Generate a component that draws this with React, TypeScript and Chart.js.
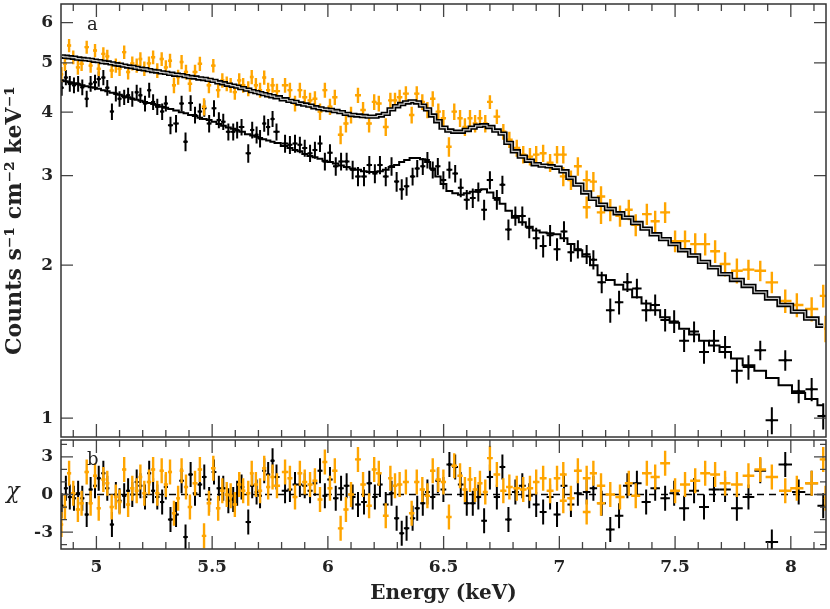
import React, { useEffect, useRef } from "react";
import { Chart, registerables } from "chart.js";

Chart.register(...registerables);

// ---------- axis ranges & tick labels ----------
const X_MIN = 4.847;
const X_MAX = 8.152;
const Y_TOP_MIN = 0.918;
const Y_TOP_MAX = 6.53;
const CHI_MIN = -4.35;
const CHI_MAX = 4.35;

const xTickValues = [5, 5.5, 6, 6.5, 7, 7.5, 8];
const xTickLabels = ["5", "5.5", "6", "6.5", "7", "7.5", "8"];
const yTopTickValues = [1, 2, 3, 4, 5, 6];
const yTopTickLabels = ["1", "2", "3", "4", "5", "6"];
const chiTickValues = [-3, 0, 3];
const chiTickLabels = ["-3", "0", "3"];

const yTitle = "Counts s\u207B\u00B9 cm\u207B\u00B2 keV\u207B\u00B9";
const xTitle = "Energy (keV)";

// ---------- black spectrum (bin centres, keV) ----------
const blackE = [
  4.850, 4.868, 4.885, 4.903, 4.921, 4.939, 4.958, 4.975, 4.994, 5.010,
  5.030, 5.047, 5.067, 5.084, 5.100, 5.120, 5.137, 5.155, 5.174, 5.190,
  5.210, 5.228, 5.245, 5.263, 5.284, 5.300, 5.320, 5.344, 5.368, 5.385,
  5.407, 5.426, 5.447, 5.466, 5.487, 5.508, 5.529, 5.548, 5.570, 5.591,
  5.608, 5.627, 5.656, 5.673, 5.692, 5.707, 5.725, 5.742, 5.761, 5.778,
  5.815, 5.836, 5.858, 5.879, 5.900, 5.923, 5.944, 5.966, 5.987, 6.009,
  6.034, 6.057, 6.081, 6.107, 6.130, 6.156, 6.179, 6.203, 6.225, 6.250,
  6.275, 6.297, 6.319, 6.340, 6.366, 6.386, 6.410, 6.430, 6.453, 6.475,
  6.499, 6.525, 6.550, 6.574, 6.600, 6.626, 6.650, 6.675, 6.700, 6.730,
  6.754, 6.780, 6.810, 6.840, 6.870, 6.900, 6.930, 6.960, 6.990, 7.020,
  7.050, 7.080, 7.118, 7.147, 7.183, 7.220, 7.258, 7.294, 7.335, 7.375,
  7.414, 7.457, 7.496, 7.539, 7.582, 7.625, 7.668, 7.716, 7.767, 7.817,
  7.868, 7.918, 7.976, 8.034, 8.090, 8.140,
];
const blackRate = [
  4.47, 4.68, 4.55, 4.52, 4.55, 4.48, 4.25, 4.55, 4.58, 4.65,
  4.68, 4.47, 4.01, 4.35, 4.25, 4.28, 4.32, 4.25, 4.38, 4.32,
  4.16, 4.42, 4.19, 4.10, 4.01, 4.16, 3.77, 3.80, 4.16, 3.50,
  4.17, 3.95, 4.01, 4.07, 3.80, 4.07, 3.86, 3.83, 3.66, 3.66,
  3.69, 3.74, 3.32, 3.69, 3.61, 3.55, 3.80, 3.74, 3.88, 3.66,
  3.47, 3.45, 3.47, 3.45, 3.40, 3.32, 3.37, 3.47, 3.20, 3.33,
  3.13, 3.20, 3.20, 3.08, 2.99, 2.99, 3.15, 3.03, 3.15, 2.99,
  3.13, 2.92, 2.82, 2.86, 2.99, 3.10, 3.13, 3.22, 3.08, 3.13,
  2.94, 3.08, 3.03, 2.84, 2.69, 2.71, 2.79, 2.57, 2.94, 2.69,
  2.88, 2.35, 2.50, 2.50, 2.37, 2.26, 2.18, 2.29, 2.15, 2.33,
  2.12, 2.15, 2.10, 2.05, 1.85, 1.63, 1.69, 1.85, 1.80, 1.63,
  1.67, 1.56, 1.55, 1.42, 1.48, 1.35, 1.42, 1.38, 1.24, 1.26,
  1.36, 0.99, 1.30, 1.13, 1.14, 1.01,
];
const blackErr = [
  0.16, 0.16, 0.16, 0.16, 0.16, 0.16, 0.16, 0.16, 0.16, 0.16,
  0.16, 0.16, 0.15, 0.15, 0.15, 0.15, 0.15, 0.15, 0.15, 0.15,
  0.15, 0.15, 0.15, 0.15, 0.15, 0.15, 0.15, 0.15, 0.15, 0.15,
  0.15, 0.15, 0.15, 0.15, 0.15, 0.15, 0.14, 0.14, 0.14, 0.14,
  0.14, 0.14, 0.14, 0.14, 0.14, 0.14, 0.14, 0.14, 0.14, 0.14,
  0.14, 0.14, 0.14, 0.13, 0.13, 0.13, 0.13, 0.13, 0.13, 0.13,
  0.13, 0.13, 0.13, 0.13, 0.13, 0.13, 0.13, 0.13, 0.13, 0.13,
  0.13, 0.13, 0.13, 0.12, 0.12, 0.12, 0.12, 0.12, 0.12, 0.12,
  0.12, 0.12, 0.12, 0.12, 0.12, 0.12, 0.12, 0.12, 0.12, 0.12,
  0.12, 0.11, 0.11, 0.11, 0.11, 0.11, 0.11, 0.11, 0.11, 0.11,
  0.09, 0.09, 0.09, 0.09, 0.09, 0.09, 0.09, 0.08, 0.08, 0.08,
  0.08, 0.08, 0.08, 0.07, 0.07, 0.07, 0.07, 0.07, 0.07, 0.07,
  0.06, 0.06, 0.06, 0.06, 0.06, 0.06,
];
const blackChi = [
  -0.9, 0.5, -0.2, -0.3, 0.1, -0.3, -1.6, 0.4, 0.7, 1.3,
  1.7, 0.5, -2.4, 0.0, -0.5, -0.1, 0.3, 0.0, 1.0, 0.7,
  -0.2, 1.7, 0.3, -0.2, -0.6, 0.6, -2.0, -1.6, 1.1, -3.4,
  1.6, 0.1, 0.8, 1.4, -0.4, 1.8, 0.5, 0.5, -0.5, -0.4,
  0.1, 0.6, -2.2, 0.7, 0.2, -0.1, 1.9, 1.6, 2.7, 1.4,
  0.3, 0.4, 0.8, 0.8, 0.7, 0.3, 0.9, 1.9, -0.1, 1.2,
  -0.3, 0.5, 0.7, -0.2, -0.8, -0.6, 0.9, -0.2, 0.8, -0.8,
  0.1, -1.9, -3.1, -2.7, -1.9, -1.1, -0.7, 0.2, -0.2, 1.1,
  0.4, 2.4, 2.2, 0.8, -0.7, -0.7, -0.2, -2.1, 1.4, -0.2,
  2.2, -2.0, 0.2, 0.7, -0.1, -0.8, -1.4, -0.2, -1.6, 0.7,
  -0.8, 0.1, 0.2, 0.5, -0.7, -2.8, -1.7, 0.7, 0.9, -0.6,
  0.5, -0.3, 0.1, -1.1, 0.3, -1.0, 0.4, 0.4, -1.1, -0.2,
  1.9, -3.8, 2.4, 0.2, 0.9, -0.9,
];

// ---------- orange spectrum ----------
const orangeE = [
  4.849, 4.864, 4.882, 4.900, 4.920, 4.936, 4.958, 4.975, 4.994, 5.010,
  5.030, 5.047, 5.066, 5.084, 5.100, 5.120, 5.137, 5.155, 5.174, 5.190,
  5.207, 5.227, 5.245, 5.263, 5.282, 5.300, 5.318, 5.335, 5.353, 5.368,
  5.387, 5.404, 5.426, 5.447, 5.465, 5.486, 5.505, 5.526, 5.544, 5.563,
  5.580, 5.598, 5.617, 5.634, 5.656, 5.671, 5.689, 5.707, 5.725, 5.742,
  5.761, 5.780, 5.815, 5.836, 5.858, 5.879, 5.900, 5.923, 5.944, 5.966,
  5.987, 6.009, 6.030, 6.055, 6.078, 6.100, 6.130, 6.152, 6.178, 6.200,
  6.220, 6.250, 6.270, 6.290, 6.310, 6.337, 6.362, 6.384, 6.408, 6.430,
  6.453, 6.477, 6.499, 6.523, 6.546, 6.571, 6.592, 6.614, 6.636, 6.657,
  6.680, 6.700, 6.730, 6.758, 6.784, 6.816, 6.844, 6.873, 6.900, 6.930,
  6.960, 6.990, 7.017, 7.017, 7.050, 7.080, 7.118, 7.118, 7.147, 7.180,
  7.180, 7.220, 7.262, 7.300, 7.330, 7.378, 7.414, 7.457, 7.500, 7.543,
  7.587, 7.630, 7.673, 7.716, 7.767, 7.817, 7.868, 7.918, 7.976, 8.026,
  8.090, 8.140, 8.150,
];
const orangeRate = [
  4.75, 4.98, 5.41, 5.13, 4.90, 4.98, 5.37, 4.94, 5.29, 4.87,
  5.21, 5.15, 4.83, 4.94, 4.87, 5.25, 4.80, 4.99, 4.94, 5.09,
  4.87, 4.99, 5.13, 4.83, 5.09, 4.90, 5.05, 4.52, 4.69, 5.02,
  4.80, 4.55, 4.80, 4.98, 4.10, 4.52, 4.94, 4.42, 4.62, 4.55,
  4.52, 4.38, 4.62, 4.52, 4.45, 4.69, 4.52, 4.42, 4.68, 4.42,
  4.52, 4.40, 4.52, 4.42, 4.16, 4.42, 4.28, 4.22, 4.25, 4.01,
  4.42, 4.10, 4.28, 3.61, 3.80, 3.95, 4.32, 4.04, 3.80, 4.19,
  4.16, 3.74, 4.22, 4.22, 4.28, 4.35, 3.95, 4.35, 4.19, 4.04,
  4.25, 4.01, 3.89, 3.42, 4.01, 3.89, 3.74, 3.89, 3.80, 3.89,
  3.80, 4.19, 3.92, 3.66, 3.53, 3.40, 3.30, 3.27, 3.30, 3.32,
  3.18, 3.30, 3.30, 2.99, 2.94, 3.13, 2.94, 2.60, 2.92, 2.73,
  2.54, 2.57, 2.50, 2.57, 2.40, 2.52, 2.44, 2.54, 2.23, 2.23,
  2.20, 2.20, 2.13, 2.01, 1.95, 1.96, 1.95, 1.85, 1.70, 1.67,
  1.64, 1.74, 1.50,
];
const orangeErr = [
  0.16, 0.16, 0.16, 0.16, 0.16, 0.16, 0.16, 0.16, 0.16, 0.16,
  0.16, 0.16, 0.16, 0.16, 0.16, 0.16, 0.16, 0.16, 0.16, 0.16,
  0.16, 0.16, 0.16, 0.16, 0.16, 0.16, 0.16, 0.16, 0.16, 0.16,
  0.16, 0.16, 0.16, 0.16, 0.16, 0.16, 0.15, 0.15, 0.15, 0.15,
  0.15, 0.15, 0.15, 0.15, 0.15, 0.15, 0.15, 0.15, 0.15, 0.15,
  0.15, 0.15, 0.15, 0.15, 0.15, 0.15, 0.15, 0.15, 0.15, 0.15,
  0.15, 0.15, 0.15, 0.15, 0.15, 0.15, 0.15, 0.15, 0.15, 0.15,
  0.15, 0.15, 0.15, 0.15, 0.15, 0.15, 0.15, 0.15, 0.15, 0.15,
  0.15, 0.15, 0.15, 0.15, 0.15, 0.15, 0.15, 0.15, 0.15, 0.15,
  0.15, 0.13, 0.13, 0.13, 0.13, 0.13, 0.13, 0.13, 0.13, 0.13,
  0.13, 0.13, 0.13, 0.13, 0.13, 0.13, 0.13, 0.13, 0.13, 0.13,
  0.13, 0.13, 0.12, 0.12, 0.12, 0.12, 0.12, 0.12, 0.11, 0.11,
  0.11, 0.11, 0.11, 0.11, 0.11, 0.09, 0.09, 0.09, 0.09, 0.09,
  0.09, 0.09, 0.09,
];
const orangeChi = [
  -2.4, -1.0, 1.7, 0.1, -1.2, -0.7, 1.8, -0.7, 1.5, -1.1,
  1.2, 0.9, -1.0, -0.2, -0.6, 2.0, -0.8, 0.5, 0.3, 1.4,
  0.1, 1.0, 2.0, 0.1, 1.9, 0.8, 1.8, -1.5, -0.3, 1.9,
  0.6, -1.0, 0.9, 2.0, -3.3, -0.7, 2.1, -1.1, 0.3, 0.0,
  -0.1, -0.8, 0.8, 0.3, 0.1, 1.7, 0.8, 0.3, 2.1, 0.6,
  1.4, 0.7, 1.8, 1.3, -0.2, 1.7, 1.0, 0.8, 1.1, -0.4,
  2.6, 0.5, 1.9, -2.7, -1.2, 0.0, 2.8, 0.8, -0.9, 2.0,
  1.7, -1.7, 1.3, 0.7, 0.8, 1.0, -1.5, 1.0, 0.4, -0.1,
  1.9, 1.2, 1.0, -1.8, 2.3, 1.5, 0.4, 1.2, 0.4, 0.9,
  0.2, 2.9, 1.6, 0.3, 0.6, 0.5, 0.4, 0.5, 1.0, 1.3,
  0.3, 1.3, 1.6, -0.5, -0.3, 1.9, 1.3, -1.4, 1.7, 0.7,
  -0.7, 0.0, -0.2, 0.9, -0.1, 1.7, 1.4, 2.5, 0.3, 0.8,
  1.1, 1.7, 1.6, 0.9, 0.8, 1.5, 2.0, 1.4, 0.3, 0.5,
  0.9, 2.8, -0.3,
];

// ---------- folded models (on the black binning grid) ----------
const modelE = blackE;
const orangeModel = [
  5.15, 5.14, 5.13, 5.12, 5.10, 5.09, 5.08, 5.07, 5.05, 5.04,
  5.02, 5.01, 4.99, 4.97, 4.96, 4.94, 4.92, 4.91, 4.89, 4.87,
  4.86, 4.84, 4.82, 4.81, 4.79, 4.78, 4.76, 4.74, 4.73, 4.71,
  4.69, 4.68, 4.66, 4.65, 4.63, 4.61, 4.58, 4.56, 4.53, 4.51,
  4.49, 4.46, 4.43, 4.40, 4.38, 4.36, 4.34, 4.32, 4.30, 4.28,
  4.24, 4.21, 4.19, 4.16, 4.14, 4.12, 4.09, 4.07, 4.05, 4.04,
  4.02, 4.00, 3.97, 3.95, 3.94, 3.93, 3.92, 3.92, 3.94, 3.97,
  4.05, 4.11, 4.15, 4.18, 4.20, 4.18, 4.12, 4.05, 3.94, 3.84,
  3.73, 3.68, 3.66, 3.66, 3.69, 3.73, 3.76, 3.77, 3.74, 3.68,
  3.63, 3.48, 3.35, 3.27, 3.21, 3.16, 3.14, 3.13, 3.11, 3.06,
  2.97, 2.88, 2.78, 2.70, 2.63, 2.58, 2.53, 2.48, 2.42, 2.36,
  2.30, 2.25, 2.20, 2.14, 2.09, 2.03, 1.98, 1.92, 1.87, 1.82,
  1.77, 1.72, 1.67, 1.62, 1.57, 1.52,
];
const blackModel = [
  4.62, 4.60, 4.58, 4.56, 4.54, 4.52, 4.50, 4.48, 4.47, 4.45,
  4.42, 4.40, 4.37, 4.35, 4.33, 4.30, 4.28, 4.25, 4.23, 4.21,
  4.19, 4.17, 4.15, 4.13, 4.10, 4.08, 4.06, 4.03, 4.00, 3.98,
  3.95, 3.93, 3.90, 3.88, 3.86, 3.83, 3.79, 3.76, 3.73, 3.71,
  3.68, 3.66, 3.62, 3.60, 3.58, 3.56, 3.54, 3.52, 3.50, 3.48,
  3.43, 3.40, 3.37, 3.35, 3.31, 3.28, 3.26, 3.24, 3.21, 3.19,
  3.17, 3.14, 3.12, 3.10, 3.08, 3.06, 3.05, 3.05, 3.06, 3.08,
  3.12, 3.15, 3.19, 3.22, 3.25, 3.25, 3.23, 3.19, 3.10, 2.99,
  2.89, 2.80, 2.77, 2.75, 2.77, 2.79, 2.81, 2.82, 2.78, 2.71,
  2.64, 2.56, 2.48, 2.43, 2.38, 2.34, 2.32, 2.31, 2.30, 2.26,
  2.20, 2.14, 2.08, 2.00, 1.91, 1.87, 1.83, 1.79, 1.73, 1.68,
  1.63, 1.58, 1.54, 1.50, 1.46, 1.42, 1.39, 1.35, 1.31, 1.27,
  1.24, 1.20, 1.16, 1.12, 1.09, 1.06,
];

// ---------- styling ----------
const FONT = '"DejaVu Serif", "Liberation Serif", serif';
const ORANGE = "#FFA500";
const TEXT = "#222";
const FRAME = "#333";
const TICK = "#444";

// half bin widths from the distances to neighbouring bin centres
function halfWidths(e: number[]): number[] {
  return e.map((v, i) => {
    let l = i - 1;
    while (l >= 0 && e[l] === v) l--;
    let r = i + 1;
    while (r < e.length && e[r] === v) r++;
    const dl = l >= 0 ? v - e[l] : null;
    const dr = r < e.length ? e[r] - v : null;
    let d: number;
    if (dl !== null && dr !== null) d = (dl + dr) / 2;
    else d = (dl ?? dr ?? 0.02) as number;
    return d / 2;
  });
}

const errorBarPlugin = {
  id: "errorBars",
  beforeDatasetDraw(chart: any, args: any) {
    const ds = chart.data.datasets[args.index];
    if (!ds.errorBars) return;
    const { ctx, chartArea: a, scales } = chart;
    const xs = scales.x;
    const ys = scales.y;
    ctx.save();
    ctx.beginPath();
    ctx.rect(a.left, a.top, a.right - a.left, a.bottom - a.top);
    ctx.clip();
    ctx.strokeStyle = ds.errColor;
    ctx.lineWidth = ds.errWidth;
    ctx.lineCap = "butt";
    ctx.beginPath();
    for (const p of ds.data) {
      const px = xs.getPixelForValue(p.x);
      const py = ys.getPixelForValue(p.y);
      ctx.moveTo(xs.getPixelForValue(p.x - p.xErr), py);
      ctx.lineTo(xs.getPixelForValue(p.x + p.xErr), py);
      ctx.moveTo(px, ys.getPixelForValue(p.y - p.yErr));
      ctx.lineTo(px, ys.getPixelForValue(p.y + p.yErr));
    }
    ctx.stroke();
    ctx.restore();
  },
};

function drawXTicks(ctx: any, x: any, a: any) {
  ctx.strokeStyle = TICK;
  ctx.lineWidth = 1.3;
  ctx.beginPath();
  for (let k = Math.ceil(X_MIN * 10); k <= Math.floor(X_MAX * 10); k++) {
    const px = x.getPixelForValue(k / 10);
    const len = k % 5 === 0 ? 13 : 7;
    ctx.moveTo(px, a.top);
    ctx.lineTo(px, a.top + len);
    ctx.moveTo(px, a.bottom);
    ctx.lineTo(px, a.bottom - len);
  }
  ctx.stroke();
}

const topFramePlugin = {
  id: "topFrame",
  afterDraw(chart: any) {
    const { ctx, chartArea: a, scales } = chart;
    ctx.save();
    drawXTicks(ctx, scales.x, a);
    ctx.beginPath();
    for (const v of yTopTickValues) {
      const py = scales.y.getPixelForValue(v);
      ctx.moveTo(a.left, py);
      ctx.lineTo(a.left + 12, py);
      ctx.moveTo(a.right, py);
      ctx.lineTo(a.right - 12, py);
    }
    ctx.stroke();
    ctx.strokeStyle = FRAME;
    ctx.lineWidth = 1.5;
    ctx.strokeRect(a.left, a.top, a.right - a.left, a.bottom - a.top);
    ctx.fillStyle = TEXT;
    ctx.font = `18px ${FONT}`;
    ctx.textAlign = "left";
    ctx.textBaseline = "alphabetic";
    ctx.fillText("a", a.left + 26, a.top + 26);
    ctx.restore();
  },
};

const bottomFramePlugin = {
  id: "bottomFrame",
  afterDraw(chart: any) {
    const { ctx, chartArea: a, scales } = chart;
    ctx.save();
    drawXTicks(ctx, scales.x, a);
    ctx.beginPath();
    for (let v = -4; v <= 4; v++) {
      const py = scales.y.getPixelForValue(v);
      const len = v % 3 === 0 ? 12 : 6;
      ctx.moveTo(a.left, py);
      ctx.lineTo(a.left + len, py);
      ctx.moveTo(a.right, py);
      ctx.lineTo(a.right - len, py);
    }
    ctx.stroke();
    ctx.strokeStyle = FRAME;
    ctx.lineWidth = 1.5;
    ctx.strokeRect(a.left, a.top, a.right - a.left, a.bottom - a.top);
    ctx.fillStyle = TEXT;
    ctx.font = `18px ${FONT}`;
    ctx.textAlign = "left";
    ctx.textBaseline = "alphabetic";
    ctx.fillText("b", a.left + 26, a.top + 25);
    ctx.font = `italic 22px ${FONT}`;
    ctx.textAlign = "center";
    ctx.fillText("\u03C7", 13, scales.y.getPixelForValue(0) + 3);
    ctx.restore();
  },
};

// keep the chart area edges exactly where the layout padding puts them
const fixYAxis = (s: any) => {
  s.width = 61;
  s.paddingTop = 0;
  s.paddingBottom = 0;
};
const fixXAxis = (s: any) => {
  s.height = 60;
  s.paddingLeft = 0;
  s.paddingRight = 0;
};

export default function App() {
  const topRef = useRef<HTMLCanvasElement>(null);
  const botRef = useRef<HTMLCanvasElement>(null);

  useEffect(() => {
    const oHw = halfWidths(orangeE);
    const bHw = halfWidths(blackE);
    const orangePts = orangeE.map((x, i) => ({ x, y: orangeRate[i], xErr: oHw[i], yErr: orangeErr[i] }));
    const blackPts = blackE.map((x, i) => ({ x, y: blackRate[i], xErr: bHw[i], yErr: blackErr[i] }));
    const orangeRes = orangeE.map((x, i) => ({ x, y: orangeChi[i], xErr: oHw[i], yErr: 1 }));
    const blackRes = blackE.map((x, i) => ({ x, y: blackChi[i], xErr: bHw[i], yErr: 1 }));
    const oModel = modelE.map((x, i) => ({ x, y: orangeModel[i] }));
    const bModel = modelE.map((x, i) => ({ x, y: blackModel[i] }));

    const tickFont = { family: FONT, weight: "bold" as const, size: 17 };

    const top = new Chart(topRef.current as HTMLCanvasElement, {
      type: "scatter",
      data: {
        datasets: [
          { type: "line", label: "model A inner", data: oModel, borderColor: "#c8c8c8", borderWidth: 1.2, pointRadius: 0, stepped: "middle", order: 0 } as any,
          { type: "line", label: "model A", data: oModel, borderColor: "#000", borderWidth: 4.4, pointRadius: 0, stepped: "middle", order: 1 } as any,
          { type: "line", label: "model B", data: bModel, borderColor: "#000", borderWidth: 2, pointRadius: 0, stepped: "middle", order: 1 } as any,
          { label: "orange", data: orangePts, pointRadius: 1.6, backgroundColor: ORANGE, borderWidth: 0, errorBars: true, errColor: ORANGE, errWidth: 2.4, order: 2 } as any,
          { label: "black", data: blackPts, pointRadius: 1.6, backgroundColor: "#000", borderWidth: 0, errorBars: true, errColor: "#000", errWidth: 2, order: 3 } as any,
        ],
      },
      options: {
        responsive: false,
        animation: false,
        events: [],
        layout: { padding: { top: 3, right: 4, bottom: 1, left: 0 } },
        plugins: { legend: { display: false }, tooltip: { enabled: false } },
        scales: {
          x: { type: "linear", min: X_MIN, max: X_MAX, display: false },
          y: {
            type: "logarithmic",
            min: Y_TOP_MIN,
            max: Y_TOP_MAX,
            afterBuildTicks: (s: any) => { s.ticks = yTopTickValues.map((v) => ({ value: v })); },
            afterFit: fixYAxis,
            grid: { display: false, drawTicks: false },
            border: { display: false },
            ticks: { padding: 8, font: tickFont, color: TEXT, autoSkip: false, callback: (_v: any, i: number) => yTopTickLabels[i] },
            title: { display: true, text: yTitle, color: TEXT, font: { family: FONT, weight: "bold", size: 22 }, padding: { top: 2, bottom: 0 } },
          } as any,
        },
      },
      plugins: [errorBarPlugin, topFramePlugin],
    });

    const bot = new Chart(botRef.current as HTMLCanvasElement, {
      type: "scatter",
      data: {
        datasets: [
          { type: "line", label: "zero", data: [{ x: X_MIN, y: 0 }, { x: X_MAX, y: 0 }], borderColor: "#000", borderWidth: 1.6, borderDash: [7, 5], pointRadius: 0, order: 1 } as any,
          { label: "orange residuals", data: orangeRes, pointRadius: 1.6, backgroundColor: ORANGE, borderWidth: 0, errorBars: true, errColor: ORANGE, errWidth: 2.4, order: 0 } as any,
          { label: "black residuals", data: blackRes, pointRadius: 1.6, backgroundColor: "#000", borderWidth: 0, errorBars: true, errColor: "#000", errWidth: 2, order: 2 } as any,
        ],
      },
      options: {
        responsive: false,
        animation: false,
        events: [],
        layout: { padding: { top: 10, right: 4, bottom: 0, left: 0 } },
        plugins: { legend: { display: false }, tooltip: { enabled: false } },
        scales: {
          x: {
            type: "linear",
            min: X_MIN,
            max: X_MAX,
            afterBuildTicks: (s: any) => { s.ticks = xTickValues.map((v) => ({ value: v })); },
            afterFit: fixXAxis,
            grid: { display: false, drawTicks: false },
            border: { display: false },
            ticks: { padding: 8, font: tickFont, color: TEXT, autoSkip: false, maxRotation: 0, callback: (_v: any, i: number) => xTickLabels[i] },
            title: { display: true, text: xTitle, color: TEXT, font: { family: FONT, weight: "bold", size: 20 }, padding: { top: 0, bottom: 3 } },
          } as any,
          y: {
            type: "linear",
            min: CHI_MIN,
            max: CHI_MAX,
            afterBuildTicks: (s: any) => { s.ticks = chiTickValues.map((v) => ({ value: v })); },
            afterFit: fixYAxis,
            grid: { display: false, drawTicks: false },
            border: { display: false },
            ticks: { padding: 8, font: tickFont, color: TEXT, autoSkip: false, callback: (_v: any, i: number) => chiTickLabels[i] },
          } as any,
        },
      },
      plugins: [errorBarPlugin, bottomFramePlugin],
    });

    return () => {
      top.destroy();
      bot.destroy();
    };
  }, []);

  return (
    <div style={{ position: "absolute", left: 0, top: 0, width: 830, height: 609, background: "#fff" }}>
      <canvas ref={topRef} width={830} height={441} style={{ position: "absolute", left: 0, top: 0, width: 830, height: 441 }} />
      <canvas ref={botRef} width={830} height={179} style={{ position: "absolute", left: 0, top: 430, width: 830, height: 179 }} />
    </div>
  );
}
